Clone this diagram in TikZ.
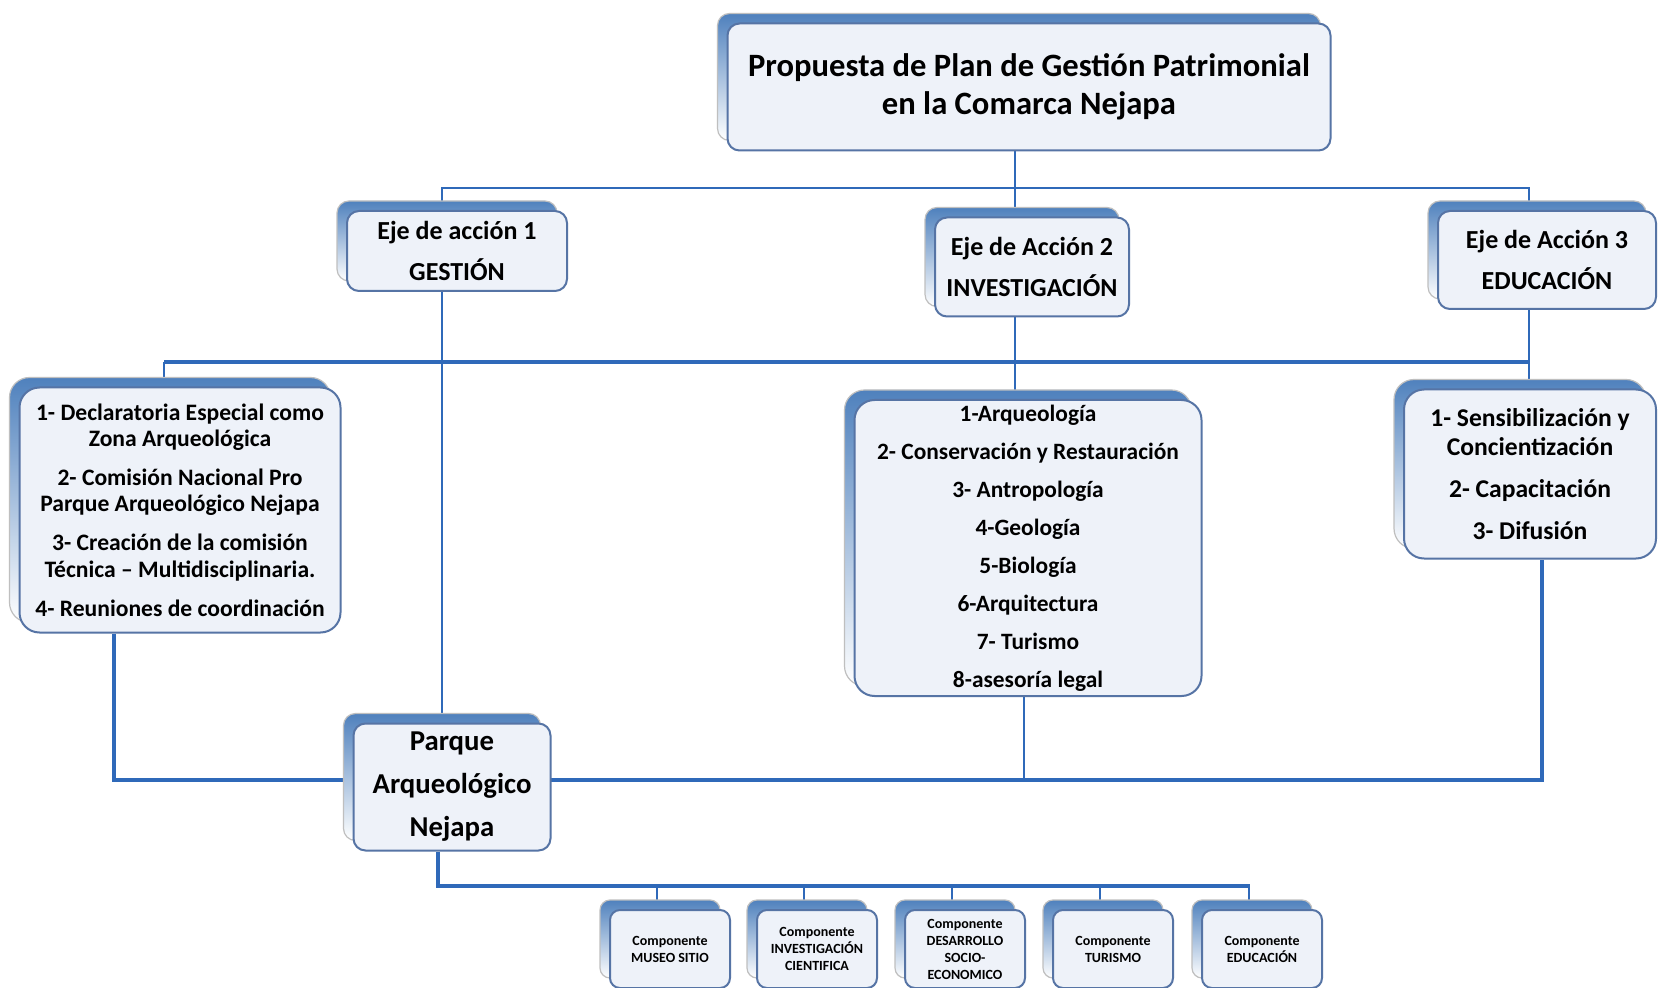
\documentclass[tikz,border=0pt]{standalone}
\usepackage{fontspec}
\setmainfont{Carlito}
\usetikzlibrary{shadows,backgrounds}
\definecolor{linkblue}{RGB}{47,105,185}
\definecolor{backblue}{RGB}{79,129,189}
\definecolor{boxline}{RGB}{86,116,165}
\definecolor{boxfill}{RGB}{238,242,249}
\newcommand\fsz[2]{\fontsize{#1}{#2}\selectfont\bfseries}
\begin{document}
\begin{tikzpicture}[x=0.5pt, y=-0.5pt, line join=round, line cap=round,
  caja/.style={draw=boxline, line width=1pt, fill=boxfill, rounded corners=#1, align=center, inner sep=2pt,
    general shadow={shadow xshift=-5pt, shadow yshift=5pt, draw=black!25, line width=.6pt,
      top color=backblue, middle color=backblue, bottom color=white}},
  caja/.default=6pt,
  link/.style={draw=linkblue, line width=1.3pt},
  bus/.style={draw=linkblue, line width=2.2pt}]
\useasboundingbox (0,0) rectangle (1658,988);
% titulo y ejes
\node[caja, minimum width=301.5pt, minimum height=63.5pt, font=\fsz{16.3}{19}] (top) at (1029,87) {Propuesta de Plan de Gestión Patrimonial\\en la Comarca Nejapa};
\node[caja, minimum width=110pt, minimum height=40pt, font=\fsz{13}{20.5}] (eje1) at (457,251) {Eje de acción 1\\GESTIÓN};
\node[caja, minimum width=97pt, minimum height=49.5pt, font=\fsz{13}{20.5}] (eje2) at (1032,267) {Eje de Acción 2\\INVESTIGACIÓN};
\node[caja, minimum width=109pt, minimum height=49pt, font=\fsz{13}{20.5}] (eje3) at (1547,260) {Eje de Acción 3\\EDUCACIÓN};
% listas
\node[caja=10pt, minimum width=160.5pt, minimum height=122.5pt, font=\fsz{11.8}{13.2}] (lista1) at (180,510) {1- Declaratoria Especial como\\Zona Arqueológica\\[6.3pt]2- Comisión Nacional Pro\\Parque Arqueológico Nejapa\\[6.3pt]3- Creación de la comisión\\Técnica – Multidisciplinaria.\\[6.3pt]4- Reuniones de coordinación};
\node[caja=10pt, minimum width=173.5pt, minimum height=148pt, font=\fsz{11.7}{19}] (lista2) at (1028,548) {1-Arqueología\\2- Conservación y Restauración\\3- Antropología\\4-Geología\\5-Biología\\6-Arquitectura\\7- Turismo\\8-asesoría legal};
\node[caja=10pt, minimum width=126pt, minimum height=84.5pt, font=\fsz{12.8}{14.8}] (lista3) at (1530,474) {1- Sensibilización y\\Concientización\\[6.2pt]2- Capacitación\\[6.2pt]3- Difusión};
\node[caja, minimum width=98.5pt, minimum height=63.5pt, font=\fsz{14.4}{21.5}] (parque) at (452,787) {Parque\\Arqueológico\\Nejapa};
% componentes
\foreach \i/\x/\t in {1/670/{Componente\\MUSEO SITIO},
    2/817/{Componente\\INVESTIGACIÓN\\CIENTIFICA},
    3/965/{Componente\\DESARROLLO\\SOCIO-\\ECONOMICO},
    4/1113/{Componente\\TURISMO},
    5/1262/{Componente\\EDUCACIÓN}}
  \node[caja=5pt, minimum width=60pt, minimum height=39pt, font=\fsz{7}{8.5}] (c\i) at (\x,949) {\t};
\begin{scope}[on background layer]
\fill[white] (0,0) rectangle (1658,988);
\coordinate (b1) at (1015,188);
\coordinate (b1l) at (442,188);
\coordinate (b1r) at (1529,188);
\coordinate (b2l) at (164,362);
\coordinate (b2r) at (1529,362);
\coordinate (b3l) at (114,780);
\coordinate (b3m) at (1024,780);
\coordinate (b3r) at (1542,780);
\coordinate (b4l) at (438,886);
\coordinate (b4r) at (1250,886);
\draw[link] (top.south -| b1) -- (eje2.north -| b1);
\draw[link] (eje1.north -| b1l) -- (b1l) -- (b1r) -- (eje3.north -| b1r);
\draw[bus] (b2l) -- (b2r);
\draw[link] (b2l) -- (lista1.north -| b2l);
\draw[link] (eje1.south -| b1l) -- (parque.north -| b1l);
\draw[link] (eje2.south -| b1) -- (lista2.north -| b1);
\draw[link] (eje3.south -| b2r) -- (lista3.north -| b2r);
\draw[bus] (lista1.south -| b3l) -- (b3l) -- (b3r) -- (lista3.south -| b3r);
\draw[link] (lista2.south -| b3m) -- (b3m);
\draw[bus] (parque.south -| b4l) -- (b4l) -- (b4r);
\foreach \i in {1,...,5}
  \draw[link] ([xshift=-6.5pt]c\i.north) -- ([xshift=-6.5pt]c\i.north |- b4l);
\end{scope}
\end{tikzpicture}
\end{document}
